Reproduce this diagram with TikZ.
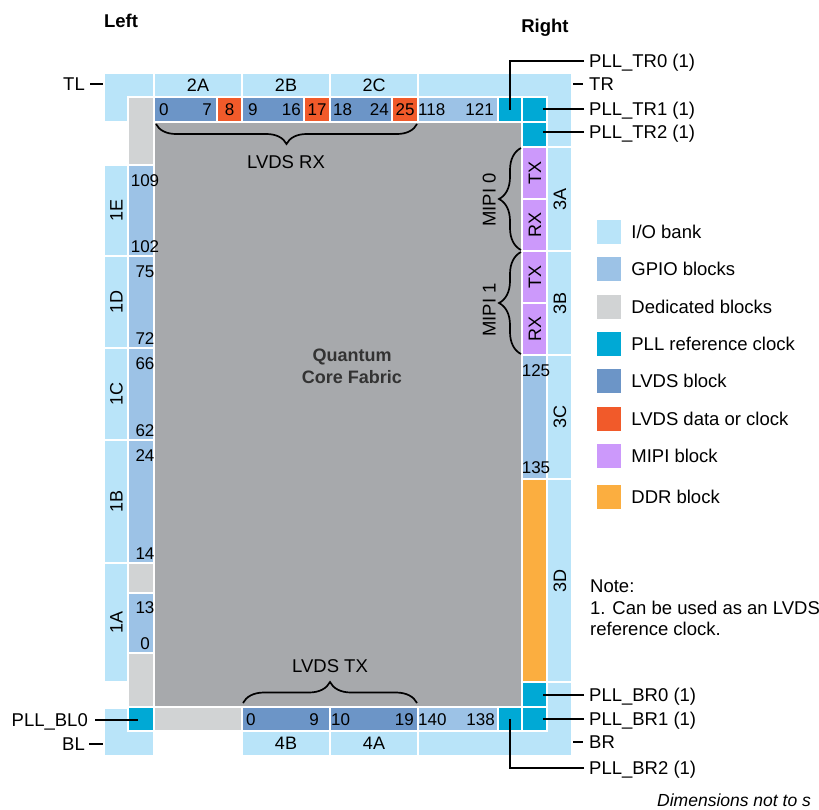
\documentclass[tikz,border=0pt]{standalone}
\usepackage{fontspec}
\setmainfont{Liberation Sans}
\usepackage{xcolor}
\usepackage{tikz}
\usetikzlibrary{positioning,decorations.pathreplacing}

\definecolor{ioBankC}{HTML}{B9E4F9}
\definecolor{gpioC}{HTML}{9CC2E6}
\definecolor{dedC}{HTML}{D1D3D4}
\definecolor{pllC}{HTML}{00A9D5}
\definecolor{lvdsC}{HTML}{6C95C7}
\definecolor{lvdsDatC}{HTML}{F15A2A}
\definecolor{mipiC}{HTML}{CC99FB}
\definecolor{ddrC}{HTML}{FBAE40}
\definecolor{fabricC}{HTML}{A7A9AC}

\begin{document}
\begin{tikzpicture}[
  x=1pt, y=-1pt,
  cell/.style={rectangle, anchor=north west, inner sep=0pt, outer sep=0pt,
    draw=white, line width=1.2pt,
    font=\fontsize{18}{20}\selectfont},
  ioBank/.style={fill=ioBankC},
  gpioBlk/.style={fill=gpioC},
  dedBlk/.style={fill=dedC},
  pllClk/.style={fill=pllC},
  lvdsBlk/.style={fill=lvdsC},
  lvdsDat/.style={fill=lvdsDatC},
  mipiBlk/.style={fill=mipiC},
  ddrBlk/.style={fill=ddrC},
  numTxt/.style={inner sep=0pt, text height=12.2pt, text depth=0pt,
    font=\fontsize{17}{19}\selectfont},
  rotTxt/.style={rotate=90, inner sep=0pt, text height=13pt, text depth=0pt,
    font=\fontsize{18}{20}\selectfont},
  annTxt/.style={inner sep=0pt, text height=13.3pt, text depth=0pt,
    font=\fontsize{18.5}{21}\selectfont},
  pline/.style={line width=1.7pt, black},
  pbrace/.style={decorate, decoration={brace, amplitude=#1},
    line width=1.7pt, black},
  pbrace/.default=21pt,
]
  \useasboundingbox (0,0) rectangle (819,809);

  %% ── Core fabric ─────────────────────────────────────────────
  \node[cell, draw=none, fill=fabricC, minimum width=368, minimum height=585]
    (fabric) at (154,122) {};
  \node[font=\fontsize{18}{22}\selectfont\bfseries, align=center,
    text=black!80] (fabricTxt) at (352,366) {Quantum\\Core Fabric};

  %% ── Corner banks ────────────────────────────────────────────
  \path[ioBank, draw=white, line width=1.2pt] (104,73) -- (154,73) -- (154,97)
    -- (128,97) -- (128,122) -- (104,122) -- cycle;
  \path[ioBank, draw=white, line width=1.2pt] (418,73) -- (572,73) -- (572,147)
    -- (547,147) -- (547,97) -- (418,97) -- cycle;
  \path[ioBank, draw=white, line width=1.2pt] (104,708) -- (128,708) -- (128,731)
    -- (154,731) -- (154,756) -- (104,756) -- cycle;
  \path[ioBank, draw=white, line width=1.2pt] (547,682) -- (572,682) -- (572,756)
    -- (418,756) -- (418,731) -- (547,731) -- cycle;

  %% ── Top and bottom banks ────────────────────────────────────
  \foreach \n/\x/\t in {b2A/154/2A, b2B/242/2B, b2C/330/2C}
    \node[cell, ioBank, minimum width=88, minimum height=24] (\n) at (\x,73) {\t};
  \foreach \n/\x/\t in {b4B/242/4B, b4A/330/4A}
    \node[cell, ioBank, minimum width=88, minimum height=25] (\n) at (\x,731) {\t};

  %% ── Top block row ───────────────────────────────────────────
  \foreach \n/\x/\w in {l0/154/63, l9/242/62, l18/330/62}
    \node[cell, lvdsBlk, minimum width=\w, minimum height=25] (\n) at (\x,97) {};
  \foreach \n/\x/\w/\t in {l8/217/25/8, l17/304/26/17, l25/392/26/25}
    \node[cell, lvdsDat, numTxt, minimum width=\w, minimum height=25]
      (\n) at (\x,97) {\t};
  \node[cell, gpioBlk, minimum width=80, minimum height=25] (g118) at (418,97) {};
  \foreach \n/\x/\y/\w in {pllTR0/498/97/24, pllTR1/522/97/25, pllTR2/522/122/25}
    \node[cell, pllClk, minimum width=\w, minimum height=25] (\n) at (\x,\y) {};

  %% ── Bottom block row ────────────────────────────────────────
  \node[cell, dedBlk, minimum width=88, minimum height=24] (dedB) at (154,707) {};
  \foreach \n/\x in {l0b/242, l10b/330}
    \node[cell, lvdsBlk, minimum width=88, minimum height=24] (\n) at (\x,707) {};
  \node[cell, gpioBlk, minimum width=80, minimum height=24] (g140) at (418,707) {};
  \foreach \n/\x/\y/\w/\h in {pllBL0/128/707/26/24, pllBR2/498/707/24/24,
      pllBR1/522/707/25/24, pllBR0/522/682/25/25}
    \node[cell, pllClk, minimum width=\w, minimum height=\h] (\n) at (\x,\y) {};

  %% ── Left and right banks ────────────────────────────────────
  \foreach \n/\y/\h/\t in {b1E/165/91/1E, b1D/256/92/1D, b1C/348/92/1C,
      b1B/440/123/1B, b1A/563/119/1A} {
    \node[cell, ioBank, minimum width=24, minimum height=\h] (\n) at (104,\y) {};
    \node[rotTxt] (\n-t) at (\n.center) {\t};
  }
  \foreach \n/\y/\h/\t in {b3A/147/104/3A, b3B/251/104/3B, b3C/355/124/3C,
      b3D/479/203/3D} {
    \node[cell, ioBank, minimum width=25, minimum height=\h] (\n) at (547,\y) {};
    \node[rotTxt] (\n-t) at (\n.center) {\t};
  }

  %% ── Left and right block columns ────────────────────────────
  \foreach \n/\y/\h in {g109/165/91, g75/256/92, g66/348/92, g24/440/123, g13/593/60}
    \node[cell, gpioBlk, minimum width=26, minimum height=\h] (\n) at (128,\y) {};
  \foreach \n/\y/\h in {ded1/97/68, ded2/563/30, ded3/653/54}
    \node[cell, dedBlk, minimum width=26, minimum height=\h] (\n) at (128,\y) {};
  \foreach \n/\y/\t in {m0tx/147/TX, m0rx/199/RX, m1tx/251/TX, m1rx/303/RX} {
    \node[cell, mipiBlk, minimum width=25, minimum height=52] (\n) at (522,\y) {};
    \node[rotTxt] (\n-t) at (\n.center) {\t};
  }
  \node[cell, gpioBlk, minimum width=25, minimum height=124] (g125) at (522,355) {};
  \node[cell, ddrBlk, minimum width=25, minimum height=203] (ddr) at (522,479) {};

  %% ── Block numbers ───────────────────────────────────────────
  \foreach \c/\na/\nb/\dl/\dr in {l0/0/7/5/5, l9/9/16/6/3, l18/18/24/3/3,
      g118/118/121/0/4, l0b/0/9/4/11, l10b/10/19/1/4, g140/140/138/0/3} {
    \node[numTxt, anchor=west] (\c-a) at ([xshift=\dl pt]\c.west) {\na};
    \node[numTxt, anchor=east] (\c-b) at ([xshift=-\dr pt]\c.east) {\nb};
  }
  \foreach \c/\na/\nb/\dt/\db/\dx in {g109/109/102/15/10/4, g75/75/72/15/10/4,
      g66/66/62/15/10/4, g24/24/14/15/10/4, g13/13/0/14/10/4,
      g125/125/135/15/12/1.5} {
    \node[numTxt] (\c-a) at ([xshift=\dx pt, yshift=-\dt pt]\c.north) {\na};
    \node[numTxt] (\c-b) at ([xshift=\dx pt, yshift=\db pt]\c.south) {\nb};
  }

  %% ── Braces ──────────────────────────────────────────────────
  \draw[pbrace=20pt] ([xshift=-1pt,yshift=-2pt]l25.south east)
    -- ([xshift=2pt,yshift=-2pt]l0.south west);
  \node[annTxt] (rxTxt) at (286,162) {LVDS RX};
  \draw[pbrace] ([xshift=1pt,yshift=4pt]l0b.north west)
    -- ([xshift=-1pt,yshift=4pt]l10b.north east);
  \node[annTxt] (txTxt) at (330,666) {LVDS TX};
  \foreach \r/\t in {m0rx/m0tx, m1rx/m1tx}
    \draw[pbrace=22pt] ([xshift=-1pt,yshift=1pt]\r.south west)
      -- ([xshift=-1pt,yshift=-1pt]\t.north west);
  \node[annTxt, rotate=90] (mipi0Txt) at (489,200) {MIPI 0};
  \node[annTxt, rotate=90] (mipi1Txt) at (489,310) {MIPI 1};

  %% ── Side titles ─────────────────────────────────────────────
  \node[annTxt, font=\fontsize{18.5}{21}\selectfont\bfseries] (leftTxt)
    at (121,21) {Left};
  \node[annTxt, font=\fontsize{18.5}{21}\selectfont\bfseries] (rightTxt)
    at (545,26) {Right};

  %% ── Corner tags and PLL callouts ────────────────────────────
  \coordinate (tlC) at (103,84);
  \coordinate (blC) at (103,744);
  \coordinate (trC) at (573,84);
  \coordinate (brC) at (573,742);
  \node[annTxt, anchor=east] (tlLbl) at (85,84) {TL};
  \node[annTxt, anchor=east] (blLbl) at (85,744) {BL};
  \node[annTxt, anchor=east] (bl0Lbl) at (88,720) {PLL\_BL0};
  \node[annTxt, anchor=west] (tr0Lbl) at (589,61) {PLL\_TR0 (1)};
  \node[annTxt, anchor=west] (trLbl) at (589,84) {TR};
  \node[annTxt, anchor=west] (tr1Lbl) at (589,109) {PLL\_TR1 (1)};
  \node[annTxt, anchor=west] (tr2Lbl) at (589,132) {PLL\_TR2 (1)};
  \node[annTxt, anchor=west] (br0Lbl) at (589,695) {PLL\_BR0 (1)};
  \node[annTxt, anchor=west] (br1Lbl) at (589,719) {PLL\_BR1 (1)};
  \node[annTxt, anchor=west] (brLbl) at (589,742) {BR};
  \node[annTxt, anchor=west] (br2Lbl) at (589,768) {PLL\_BR2 (1)};

  \draw[pline] ([xshift=5pt]tlLbl.east) -- (tlC);
  \draw[pline] ([xshift=4pt]blLbl.east) -- (blC);
  \draw[pline] ([xshift=7pt]bl0Lbl.east) -- ([xshift=-3pt]bl0Lbl.east -| pllBL0.center);
  \draw[pline] (trC) -- ([xshift=-6pt]trLbl.west);
  \draw[pline] (brC) -- ([xshift=-6pt]brLbl.west);
  \draw[pline] ([xshift=-5pt]tr0Lbl.west) -| (pllTR0.center);
  \foreach \l/\c in {tr1Lbl/pllTR1, tr2Lbl/pllTR2, br0Lbl/pllBR0, br1Lbl/pllBR1}
    \draw[pline] ([xshift=-5pt]\l.west) -- ([xshift=8pt]\l.west -| \c.center);
  \draw[pline] ([xshift=-5pt]br2Lbl.west) -| (pllBR2.center);

  %% ── Legend ──────────────────────────────────────────────────
  \foreach \i/\c/\y/\t in {1/ioBankC/232/{I/O bank}, 2/gpioC/269/GPIO blocks,
      3/dedC/307/Dedicated blocks, 4/pllC/344/PLL reference clock,
      5/lvdsC/381/LVDS block, 6/lvdsDatC/419/LVDS data or clock,
      7/mipiC/456/MIPI block, 8/ddrC/497/DDR block} {
    \node[rectangle, fill=\c, minimum size=24, inner sep=0pt] (sw\i) at (609,\y) {};
    \node[annTxt, right=10pt of sw\i] (leg\i) {\t};
  }
  \node[anchor=north west, align=left, inner sep=0pt,
    font=\fontsize{18.5}{21.5}\selectfont] (noteTxt) at (590,580)
    {Note:\\1. Can be used as an LVDS\\reference clock.};
  \node[annTxt, anchor=west, text height=12.4pt,
    font=\fontsize{17.5}{20}\selectfont\itshape] (dimTxt) at (657,800)
    {Dimensions not to s};

\end{tikzpicture}
\end{document}
